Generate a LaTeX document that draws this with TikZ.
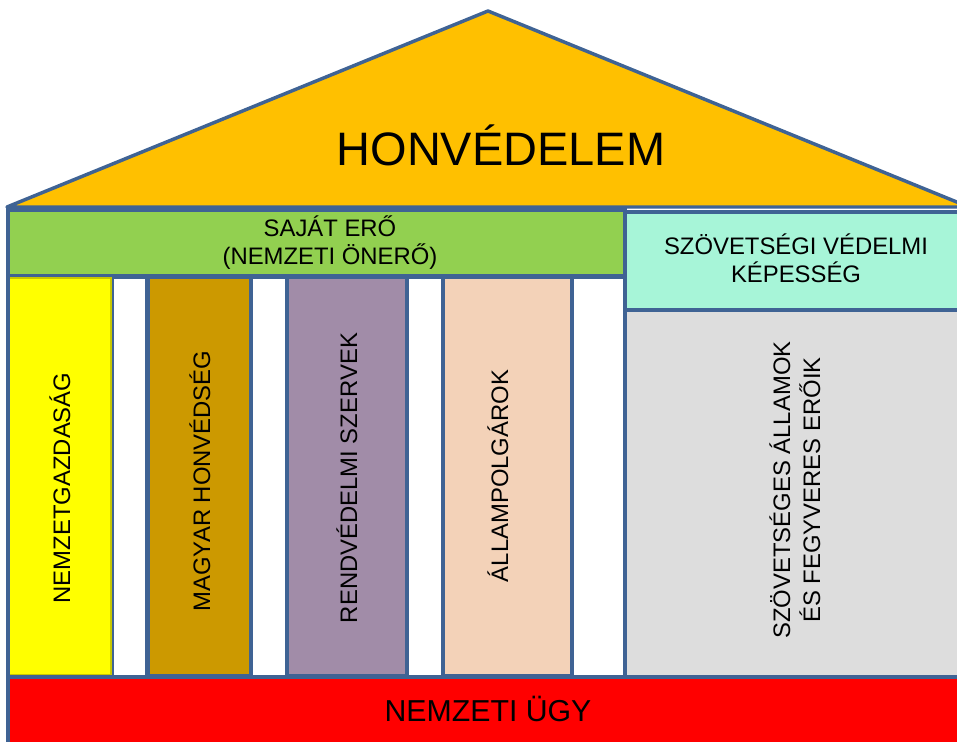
\documentclass[tikz,border=0pt]{standalone}
\usepackage{fontspec}
\setmainfont{Liberation Sans}
\definecolor{lineblue}{HTML}{3F6394}
\definecolor{roofc}{HTML}{FFC000}
\definecolor{greenc}{HTML}{92D050}
\definecolor{tealc}{HTML}{A7F5D8}
\definecolor{greyc}{HTML}{DDDDDD}
\definecolor{yellowc}{HTML}{FFFF00}
\definecolor{yellowedge}{HTML}{C8C800}
\definecolor{brownc}{HTML}{CC9900}
\definecolor{purplec}{HTML}{A18CA8}
\definecolor{peachc}{HTML}{F3D2B8}
\definecolor{redc}{HTML}{FF0000}
\tikzset{
  part/.style={draw=lineblue, line width=2.6pt, line join=miter},
  gap/.style={part, fill=white},
  lbl/.style={text=black, inner sep=0pt, font=\fontsize{17.9}{21}\selectfont},
  vlbl/.style={lbl, rotate=90, anchor=base},
}
\begin{document}
\begin{tikzpicture}[x=0.75pt, y=-0.75pt]
\useasboundingbox (0,0) rectangle (957,742);
\clip (0,0) rectangle (957,742);
% roof
\draw[part, fill=roofc, line join=round] (7,207) -- (488,11) -- (969,207) -- cycle;
\node[lbl, anchor=base, font=\fontsize{35.2}{40}\selectfont] (roof) at (501,165) {HONVÉDELEM};
% body background
\fill[white] (8,210) rectangle (965,750);
% green beam
\draw[part, fill=greenc] (8,210) rectangle (625,276);
\node[lbl, align=center] (own) at (330,243) {SAJÁT ERŐ\\(NEMZETI ÖNERŐ)};
% alliance capability
\draw[part, fill=tealc] (625,212) rectangle (965,310);
\node[lbl, align=center] (cap) at (796,258) {SZÖVETSÉGI VÉDELMI\\KÉPESSÉG};
% allied forces
\draw[part, fill=greyc] (625,310) rectangle (965,677);
\node[lbl, rotate=90, align=center, font=\fontsize{17.9}{22.5}\selectfont] (allied) at (795,490) {SZÖVETSÉGES ÁLLAMOK\\ÉS FEGYVERES ERŐIK};
% gaps between pillars
\draw[gap] (112,277) rectangle (147,677);
\draw[gap] (251,277) rectangle (287,677);
\draw[gap] (407,277) rectangle (443,677);
\draw[gap] (572,277) rectangle (625,677);
% pillars
\draw[fill=yellowc, draw=yellowedge, line width=1pt] (9,278) rectangle (111,675);
\node[vlbl] (econ) at (70,488) {NEMZETGAZDASÁG};
\draw[part, fill=brownc] (148,277) rectangle (251,676);
\node[vlbl] (army) at (210,481) {MAGYAR HONVÉDSÉG};
\draw[part, fill=purplec] (287,277) rectangle (407,676);
\node[vlbl] (police) at (357,478) {RENDVÉDELMI SZERVEK};
\draw[part, fill=peachc] (443,277) rectangle (572,676);
\node[vlbl] (citizens) at (508,476) {ÁLLAMPOLGÁROK};
% base
\draw[part, fill=redc] (8,677) rectangle (965,750);
\node[lbl, anchor=base, font=\fontsize{22.7}{26}\selectfont] (national) at (488,721) {NEMZETI ÜGY};
% outer frame left edge
\draw[part] (8,207) -- (8,750);
\end{tikzpicture}
\end{document}
